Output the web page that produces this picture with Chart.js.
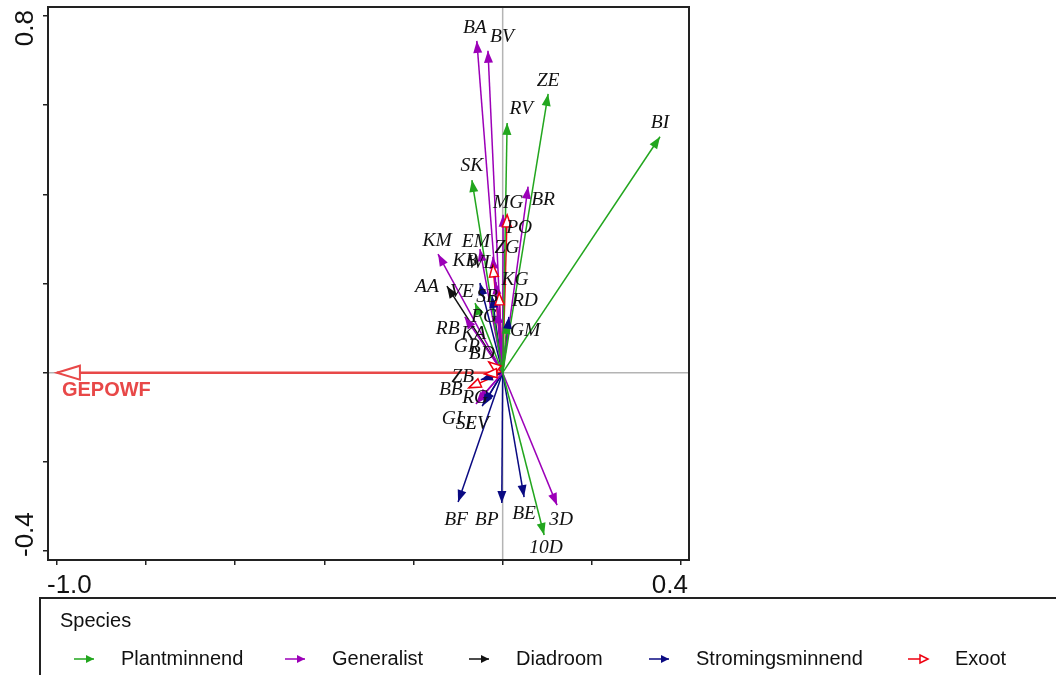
<!DOCTYPE html>
<html><head><meta charset="utf-8">
<script src="https://cdn.jsdelivr.net/npm/chart.js@4.4.0/dist/chart.umd.min.js"></script>
<style>html,body{margin:0;padding:0;background:#fff;}canvas{display:block}</style>
</head><body>
<canvas id="c" width="1056" height="675" style="width:1056px;height:675px"></canvas>
<script>
// ---- data ----
const speciesCodes = ['BI','ZE','RV','SK','PG','GM','10D',
  'BA','BV','BR','MG','KM','EM','WL','KB','RB','KA','RG','GI','3D',
  'AA',
  'VE','SB','RD','BF','BP','BE','SL','EV','BD',
  'PO','ZG','KG','GR','ZB','BB'];
const speciesGroup = ['Plantminnend','Plantminnend','Plantminnend','Plantminnend','Plantminnend','Plantminnend','Plantminnend',
  'Generalist','Generalist','Generalist','Generalist','Generalist','Generalist','Generalist','Generalist','Generalist','Generalist','Generalist','Generalist','Generalist',
  'Diadroom',
  'Stromingsminnend','Stromingsminnend','Stromingsminnend','Stromingsminnend','Stromingsminnend','Stromingsminnend','Stromingsminnend','Stromingsminnend','Stromingsminnend',
  'Exoot','Exoot','Exoot','Exoot','Exoot','Exoot'];
const axis1 = [0.353,0.102,0.010,-0.069,-0.062,0.010,0.093,
  -0.058,-0.033,0.057,0.001,-0.145,-0.051,-0.022,-0.015,-0.085,-0.011,-0.055,-0.060,0.122,
  -0.125,
  -0.051,-0.024,0.014,-0.100,-0.002,0.048,-0.046,-0.042,-0.049,
  0.010,-0.022,-0.008,-0.031,-0.040,-0.076];
const axis2 = [0.529,0.625,0.560,0.432,0.156,0.114,-0.364,
  0.744,0.722,0.417,0.354,0.266,0.277,0.260,0.203,0.125,0.138,-0.063,-0.070,-0.297,
  0.194,
  0.201,0.172,0.125,-0.290,-0.292,-0.279,-0.075,-0.070,-0.016,
  0.354,0.242,0.179,0.024,-0.003,-0.034];
const envNames = ['GEPOWF'];
const envAxis1 = [-1.0];
const envAxis2 = [0.0];
const groups = ['Plantminnend','Generalist','Diadroom','Stromingsminnend','Exoot'];
const xTickValues = [-1.0,-0.8,-0.6,-0.4,-0.2,0.0,0.2,0.4];
const yTickValues = [-0.4,-0.2,0.0,0.2,0.4,0.6,0.8];
const xTickLabels = ['-1.0','0.4'];
const yTickLabels = ['-0.4','0.8'];

// ---- styles ----
const groupColor = {Plantminnend:'#22a61e', Generalist:'#9c00b8', Diadroom:'#111111', Stromingsminnend:'#0a0a82', Exoot:'#ee0010'};
const envColor = '#e84848';
// label offsets (pixels) relative to arrow tip
const labelNudge = {
  BI:[0,-14], ZE:[0,-13], RV:[14,-14], SK:[0,-14], PG:[9,14], GM:[18,9], '10D':[2,13],
  BA:[-2,-13], BV:[14,-14], BR:[15,13], MG:[5,-12], KM:[-1,-13], EM:[-4,-7], WL:[-12,6],
  KB:[-31,-21], RB:[-17,12], KA:[-24,23], RG:[-3,-3], GI:[-24,15], '3D':[4,15],
  AA:[-20,1], VE:[-18,9], SB:[-5,1], RD:[16,-16], BF:[-2,18], BP:[-15,17], BE:[0,17],
  SL:[-16,18], EV:[-7,20], BD:[1,-26], PO:[12,13], ZG:[14,-17], KG:[16,-13], GR:[-22,-15],
  ZB:[-22,3], BB:[-18,2]
};

const datasets = [];
speciesCodes.forEach((code,i)=>{
  datasets.push({label:code, kind:'species', group:speciesGroup[i],
    data:[{x:0,y:0},{x:axis1[i],y:axis2[i]}],
    showLine:true, pointRadius:0, borderWidth:1.5, borderColor:groupColor[speciesGroup[i]]});
});
envNames.forEach((n,i)=>{
  datasets.push({label:n, kind:'env', data:[{x:0,y:0},{x:envAxis1[i],y:envAxis2[i]}],
    showLine:true, pointRadius:0, borderWidth:2.5, borderColor:envColor});
});

function head(ctx,x0,y0,x1,y1,len,half,color,open,lw){
  const a=Math.atan2(y1-y0,x1-x0);
  const bx=x1-len*Math.cos(a), by=y1-len*Math.sin(a);
  const px=-Math.sin(a)*half, py=Math.cos(a)*half;
  ctx.beginPath();ctx.moveTo(x1,y1);ctx.lineTo(bx+px,by+py);ctx.lineTo(bx-px,by-py);ctx.closePath();
  if(open){ctx.fillStyle='#fff';ctx.fill();ctx.lineWidth=lw;ctx.strokeStyle=color;ctx.lineJoin='miter';ctx.stroke();}
  else{ctx.fillStyle=color;ctx.fill();}
}

const biplot = {
  id:'biplot',
  beforeDatasetsDraw(chart){
    const {ctx,chartArea:a,scales:{x,y}}=chart;
    ctx.save();ctx.strokeStyle='#b4b4b4';ctx.lineWidth=1.5;
    const x0=x.getPixelForValue(0), y0=y.getPixelForValue(0);
    ctx.beginPath();ctx.moveTo(x0,a.top);ctx.lineTo(x0,a.bottom);ctx.moveTo(a.left,y0);ctx.lineTo(a.right,y0);ctx.stroke();
    ctx.restore();
  },
  afterDatasetsDraw(chart){
    const ctx=chart.ctx;
    ctx.save();
    chart.data.datasets.forEach((ds,i)=>{
      const m=chart.getDatasetMeta(i);
      const p0=m.data[0], p1=m.data[1];
      if(ds.kind==='env'){
        head(ctx,p0.x,p0.y,p1.x,p1.y,23,7,envColor,true,2);
      } else {
        const open = ds.group==='Exoot';
        head(ctx,p0.x,p0.y,p1.x,p1.y,12,4.5,groupColor[ds.group],open,1.5);
      }
    });
    // labels
    ctx.textAlign='center';ctx.textBaseline='middle';
    ctx.font='italic 19.5px "Liberation Serif","Times New Roman",serif';
    ctx.fillStyle='#111';
    chart.data.datasets.forEach((ds,i)=>{
      const m=chart.getDatasetMeta(i); const p1=m.data[1];
      if(ds.kind==='species'){
        const n=labelNudge[ds.label]||[0,-13];
        ctx.fillText(ds.label,p1.x+n[0],p1.y+n[1]);
      } else {
        ctx.save();ctx.font='bold 20px "Liberation Sans",Arial,sans-serif';ctx.fillStyle=envColor;
        ctx.textAlign='left';ctx.textBaseline='top';
        ctx.fillText(ds.label,p1.x+5,p1.y+8);ctx.restore();
      }
    });
    ctx.restore();
  },
  afterDraw(chart){
    const {ctx,chartArea:a}=chart;
    ctx.save();
    // frame
    ctx.strokeStyle='#222';ctx.lineWidth=2;
    ctx.strokeRect(a.left,a.top,a.right-a.left,a.bottom-a.top);
    // tick labels
    ctx.fillStyle='#111';ctx.font='26px "Liberation Sans",Arial,sans-serif';
    ctx.textBaseline='alphabetic';
    ctx.textAlign='left';ctx.fillText(xTickLabels[0],a.left-1,a.bottom+33);
    ctx.textAlign='right';ctx.fillText(xTickLabels[1],a.right-1,a.bottom+33);
    ctx.save();ctx.translate(a.left-15,a.bottom-3);ctx.rotate(-Math.PI/2);
    ctx.textAlign='left';ctx.fillText(yTickLabels[0],0,0);ctx.restore();
    ctx.save();ctx.translate(a.left-15,a.top+3);ctx.rotate(-Math.PI/2);
    ctx.textAlign='right';ctx.fillText(yTickLabels[1],0,0);ctx.restore();
    // legend box
    const lx=40, ly=598;
    ctx.strokeStyle='#222';ctx.lineWidth=2;
    ctx.beginPath();ctx.moveTo(lx,chart.height+5);ctx.lineTo(lx,ly);ctx.lineTo(chart.width+5,ly);ctx.stroke();
    ctx.font='20px "Liberation Sans",Arial,sans-serif';ctx.textAlign='left';ctx.textBaseline='middle';
    ctx.fillStyle='#111';ctx.fillText('Species',lx+20,ly+23);
    const itemX=[74,285,469,649,908];
    const iy=ly+61;
    groups.forEach((g,k)=>{
      const x0=itemX[k], c=groupColor[g];
      ctx.strokeStyle=c;ctx.lineWidth=1.5;
      ctx.beginPath();ctx.moveTo(x0,iy);ctx.lineTo(x0+20,iy);ctx.stroke();
      head(ctx,x0,iy,x0+20,iy,8,4,c,g==='Exoot',1.5);
      ctx.fillStyle='#111';ctx.fillText(g,x0+47,iy);
    });
    ctx.restore();
  }
};

new Chart(document.getElementById('c'),{
  type:'scatter',
  data:{datasets},
  options:{
    responsive:false, animation:false, devicePixelRatio:1,
    layout:{padding:{left:0,top:7,right:367,bottom:85}},
    plugins:{legend:{display:false},tooltip:{enabled:false}},
    scales:{
      x:{type:'linear',min:-1.020,max:0.418,
        afterBuildTicks:s=>{s.ticks=xTickValues.map(v=>({value:v}));},
        afterFit:s=>{s.height=30;},
        ticks:{display:false},
        border:{display:false},
        grid:{drawOnChartArea:false,drawTicks:true,tickLength:5,color:'#222',lineWidth:1.5}},
      y:{type:'linear',min:-0.420,max:0.820,
        afterBuildTicks:s=>{s.ticks=yTickValues.map(v=>({value:v}));},
        afterFit:s=>{s.width=48;},
        ticks:{display:false},
        border:{display:false},
        grid:{drawOnChartArea:false,drawTicks:true,tickLength:5,color:'#222',lineWidth:1.5}}
    }
  },
  plugins:[biplot]
});
</script>
</body></html>
